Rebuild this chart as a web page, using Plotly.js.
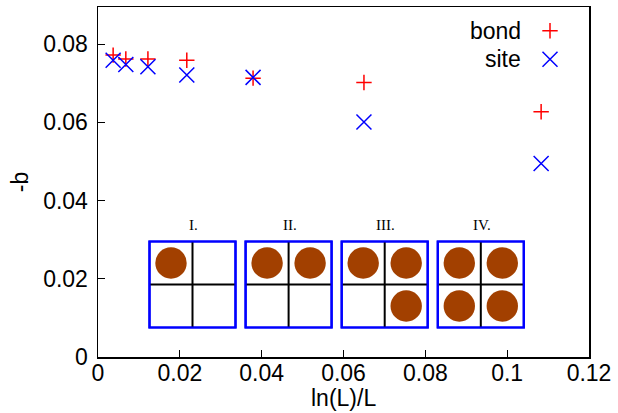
<!DOCTYPE html>
<html>
<head>
<meta charset="utf-8">
<script src="https://cdn.plot.ly/plotly-3.0.1.min.js"></script>
<style>
  html, body { margin: 0; padding: 0; background: #ffffff; }
  #chart { width: 618px; height: 413px; }
</style>
</head>
<body>
<div id="chart"></div>
<script>
// ln(L)/L for each system size, and the fitted -b for bond and site percolation
const lnLoverL = [0.0037, 0.0068, 0.0122, 0.0217, 0.0379, 0.0650, 0.1083];
const bondB    = [0.0772, 0.0762, 0.0762, 0.0759, 0.0713, 0.0702, 0.0627];
const siteB    = [0.0759, 0.0748, 0.0742, 0.0721, 0.0715, 0.0601, 0.0495];

const xTicks = [0, 0.02, 0.04, 0.06, 0.08, 0.1, 0.12];
const xTickText = ['0', '0.02', '0.04', '0.06', '0.08', '0.1', '0.12'];
const yTicks = [0, 0.02, 0.04, 0.06, 0.08];
const yTickText = ['0', '0.02', '0.04', '0.06', '0.08'];

const seriesNames = ['bond', 'site'];

// 2x2 occupancy configurations shown in the inset (row-major: TL, TR, BL, BR)
const configLabels = ['I.', 'II.', 'III.', 'IV.'];
const configCells = [
  [1, 0, 0, 0],
  [1, 1, 0, 0],
  [1, 1, 0, 1],
  [1, 1, 1, 1]
];

// plot-area geometry in pixels
const W = 618, H = 413;
const M = { l: 98, r: 29, t: 7, b: 56 };
const PW = W - M.l - M.r, PH = H - M.t - M.b;
const px = x => (x - M.l) / PW;          // pixel x -> paper x
const py = y => (H - M.b - y) / PH;      // pixel y -> paper y

const FONT = 'Liberation Sans, Arial, sans-serif';
const RED = '#ff0000', BLUE = '#0000ff', DISC = '#a24000';

const plusMarker  = { symbol: 'cross-thin', size: 11, color: RED,  line: { color: RED,  width: 1.5 } };
const crossMarker = { symbol: 'x-thin',     size: 15, color: BLUE, line: { color: BLUE, width: 1.5 } };

const traces = [
  {
    x: lnLoverL, y: bondB, name: seriesNames[0], type: 'scatter', mode: 'markers',
    marker: plusMarker, showlegend: false, cliponaxis: false
  },
  {
    x: lnLoverL, y: siteB, name: seriesNames[1], type: 'scatter', mode: 'markers',
    marker: crossMarker, showlegend: false, cliponaxis: false
  },
  // key samples on a hidden unit overlay
  {
    x: [px(550)], y: [py(30.7)], xaxis: 'x2', yaxis: 'y2', type: 'scatter', mode: 'markers',
    marker: plusMarker, showlegend: false, hoverinfo: 'skip'
  },
  {
    x: [px(550)], y: [py(59.3)], xaxis: 'x2', yaxis: 'y2', type: 'scatter', mode: 'markers',
    marker: crossMarker, showlegend: false, hoverinfo: 'skip'
  }
];

const shapes = [];
const annotations = [
  { xref: 'paper', yref: 'paper', x: px(523), y: py(30.7), xanchor: 'right', yanchor: 'middle',
    text: seriesNames[0], showarrow: false, font: { family: FONT, size: 23, color: '#000' } },
  { xref: 'paper', yref: 'paper', x: px(523), y: py(59.3), xanchor: 'right', yanchor: 'middle',
    text: seriesNames[1], showarrow: false, font: { family: FONT, size: 23, color: '#000' } }
];

// inset: four 2x2 lattice squares with occupied sites
const boxSize = 86, boxGap = 96.1, box0x = 149.5, box0y = 241.5, discR = 15.7;
configCells.forEach((cells, i) => {
  const x0 = box0x + i * boxGap, y0 = box0y, x1 = x0 + boxSize, y1 = y0 + boxSize;
  const cx = (x0 + x1) / 2, cy = (y0 + y1) / 2, half = boxSize / 2;
  shapes.push({ type: 'rect', xref: 'paper', yref: 'paper', x0: px(x0), x1: px(x1), y0: py(y1), y1: py(y0),
    fillcolor: '#ffffff', line: { color: BLUE, width: 2.2 }, layer: 'above' });
  cells.forEach((on, k) => {
    if (!on) return;
    const ccx = x0 + (k % 2) * half + half / 2, ccy = y0 + Math.floor(k / 2) * half + half / 2;
    shapes.push({ type: 'circle', xref: 'paper', yref: 'paper',
      x0: px(ccx - discR), x1: px(ccx + discR), y0: py(ccy + discR), y1: py(ccy - discR),
      fillcolor: DISC, line: { width: 0 }, layer: 'above' });
  });
  shapes.push({ type: 'line', xref: 'paper', yref: 'paper', x0: px(cx), x1: px(cx), y0: py(y1), y1: py(y0),
    line: { color: '#000', width: 2 }, layer: 'above' });
  shapes.push({ type: 'line', xref: 'paper', yref: 'paper', x0: px(x0), x1: px(x1), y0: py(cy), y1: py(cy),
    line: { color: '#000', width: 2 }, layer: 'above' });
  // redraw the blue frame on top of the divider ends
  shapes.push({ type: 'rect', xref: 'paper', yref: 'paper', x0: px(x0), x1: px(x1), y0: py(y1), y1: py(y0),
    line: { color: BLUE, width: 2.2 }, layer: 'above' });
  annotations.push({ xref: 'paper', yref: 'paper', x: px(cx + 1), y: py(225), xanchor: 'center', yanchor: 'middle',
    text: configLabels[i], showarrow: false,
    font: { family: 'Liberation Serif, Times New Roman, serif', size: 15, color: '#000' } });
});

// x-axis title placed just under the tick labels
annotations.push({ xref: 'paper', yref: 'paper', x: 0.5, y: py(398), xanchor: 'center', yanchor: 'middle',
  text: 'ln(L)/L', showarrow: false, borderpad: 0, font: { family: FONT, size: 23, color: '#000' } });

const axisCommon = {
  showgrid: false, zeroline: false, showline: true, mirror: true,
  linecolor: '#000', linewidth: 1.5,
  ticks: 'inside', ticklen: 7, tickwidth: 1, tickcolor: '#000',
  tickfont: { family: FONT, size: 23, color: '#000' }
};

const layout = {
  width: W, height: H,
  margin: M,
  paper_bgcolor: '#ffffff', plot_bgcolor: '#ffffff',
  showlegend: false,
  xaxis: Object.assign({}, axisCommon, {
    range: [0, 0.12], tickmode: 'array', tickvals: xTicks, ticktext: xTickText,
    ticklabelstandoff: -5
  }),
  yaxis: Object.assign({}, axisCommon, {
    range: [0, 0.0895], tickmode: 'array', tickvals: yTicks, ticktext: yTickText,
    ticklabelstandoff: 4,
    title: { text: '-b', font: { family: FONT, size: 23, color: '#000' }, standoff: 8 }
  }),
  xaxis2: { overlaying: 'x', range: [0, 1], visible: false, fixedrange: true },
  yaxis2: { overlaying: 'y', range: [0, 1], visible: false, fixedrange: true },
  shapes: shapes,
  annotations: annotations
};

Plotly.newPlot('chart', traces, layout, { staticPlot: true, displayModeBar: false });
</script>
</body>
</html>
